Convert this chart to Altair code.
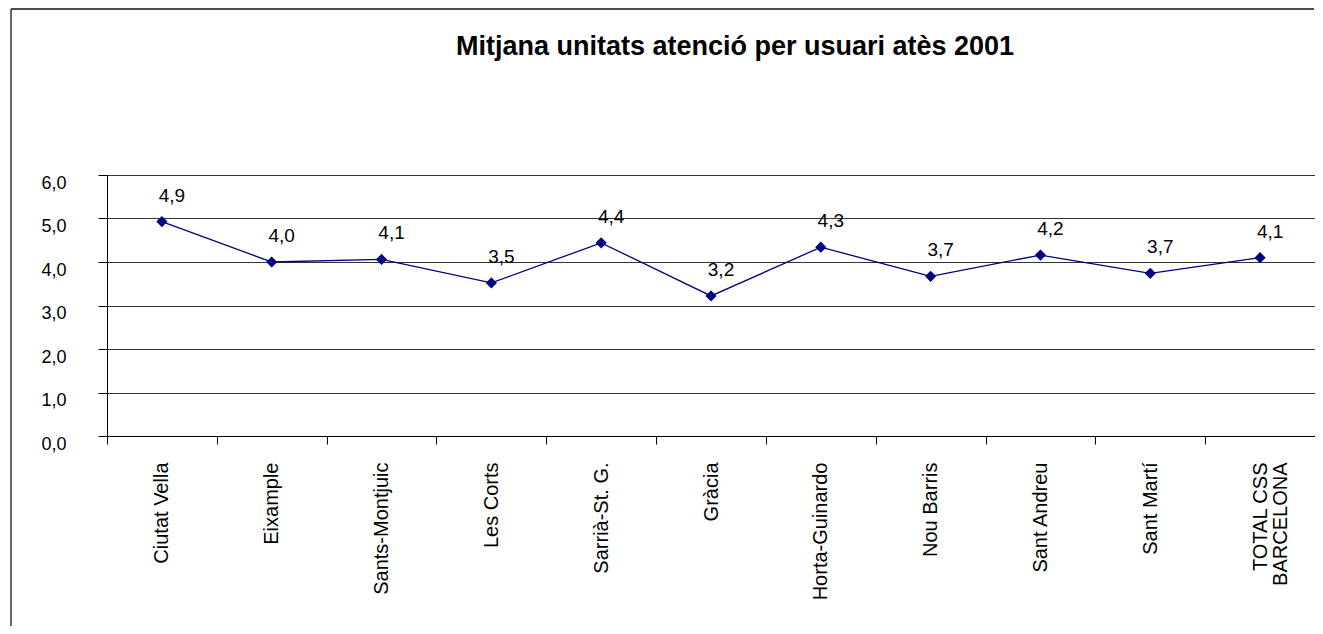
import altair as alt
import pandas as pd

districts = ["Ciutat Vella", "Eixample", "Sants-Montjuic", "Les Corts", "Sarrià-St. G.",
             "Gràcia", "Horta-Guinardo", "Nou Barris", "Sant Andreu", "Sant Martí",
             "TOTAL CSS\nBARCELONA"]
values = [4.93, 4.00, 4.06, 3.52, 4.44, 3.22, 4.34, 3.67, 4.16, 3.74, 4.10]
y_ticks = [0, 1, 2, 3, 4, 5, 6]
title_text = "Mitjana unitats atenció per usuari atès 2001"

FONT = "Liberation Sans"
W, H = 1208, 261
NAVY = "#000080"

df = pd.DataFrame({"districte": districts, "valor": values})

x_enc = alt.X("districte:N", sort=districts, title=None,
              scale=alt.Scale(paddingInner=0, paddingOuter=0),
              axis=alt.Axis(labelAngle=-90, labelFontSize=20, labelFont=FONT,
                            labelColor="black", labelPadding=18, tickSize=8,
                            tickBand="extent", tickColor="black", domainColor="black",
                            labelExpr="split(datum.label, '\\n')", labelLineHeight=20,
                            labelLimit=300, grid=False))
y_enc = alt.Y("valor:Q", title=None,
              scale=alt.Scale(domain=[0, 6], nice=False, zero=True),
              axis=alt.Axis(values=y_ticks, labelFontSize=18, labelFont=FONT,
                            labelColor="black", labelPadding=32, tickSize=9,
                            tickColor="black", domainColor="black",
                            labelExpr="replace(format(datum.value, '.1f'), '.', ',')",
                            labelOffset=8, grid=True, gridColor="#333333",
                            gridWidth=1))

base = alt.Chart(df).encode(x=x_enc, y=y_enc)

line = base.mark_line(color=NAVY, strokeWidth=1.3)
points = base.mark_point(shape="diamond", filled=True, size=125, color=NAVY, opacity=1)
labels = base.transform_calculate(
    etiqueta="replace(format(datum.valor, '.1f'), '.', ',')"
).mark_text(font=FONT, fontSize=19, color="black", align="center",
            baseline="middle", dx=10, dy=-26).encode(text="etiqueta:N")

title_df = pd.DataFrame({"t": [title_text]})
title = alt.Chart(title_df).mark_text(font=FONT, fontSize=27, fontWeight="bold",
                                      color="black", align="center",
                                      baseline="alphabetic").encode(
    x=alt.value(628), y=alt.value(-120), text="t:N")

frame_df = pd.DataFrame({"f": [1]})
frame_top = alt.Chart(frame_df).mark_rule(color="#111111", strokeWidth=1.5).encode(
    x=alt.value(-96), x2=alt.value(W - 1), y=alt.value(-166), y2=alt.value(-166))
frame_left = alt.Chart(frame_df).mark_rule(color="#333333", strokeWidth=1.5).encode(
    x=alt.value(-96), x2=alt.value(-96), y=alt.value(-166), y2=alt.value(H + 190))

chart = alt.layer(frame_top, frame_left, title, line, points, labels).properties(
    width=W, height=H,
    padding={"left": 99, "top": 167, "right": 0, "bottom": 190},
    autosize=alt.AutoSizeParams(type="none"),
).configure_view(stroke=None).configure(background="white")

chart.save("out.html", embed_options={"renderer": "svg", "actions": False})
